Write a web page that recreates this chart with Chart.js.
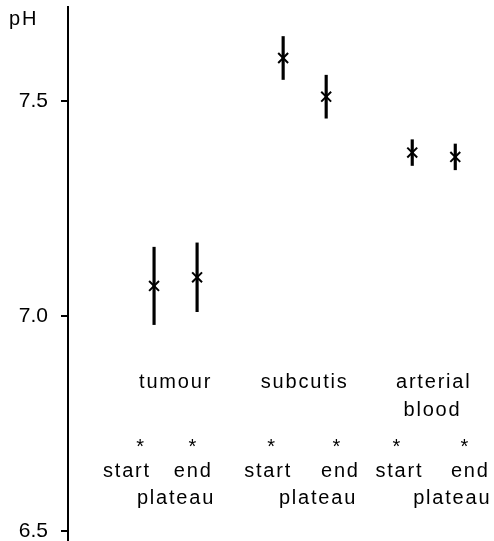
<!DOCTYPE html>
<html>
<head>
<meta charset="utf-8">
<script src="https://cdn.jsdelivr.net/npm/chart.js@4.4.1/dist/chart.umd.min.js"></script>
<style>
  html, body { margin: 0; padding: 0; background: #fff; }
  #wrap { width: 494px; height: 541px; position: relative; }
</style>
</head>
<body>
<div id="wrap"><canvas id="c" width="494" height="541"></canvas></div>
<script>
// Measurement sites and sampling moments
const sites = ['tumour', 'subcutis', 'arterial blood'];
const phases = ['start', 'end'];
const phaseNote = 'plateau';

// Horizontal slot of each measurement (start/end pairs per site)
const slots = [1, 2, 4, 5, 7, 8];

// Mean pH and its spread at each slot
const meanPH = [7.07, 7.09, 7.60, 7.51, 7.38, 7.37];
const spreadPH = [0.09, 0.08, 0.05, 0.05, 0.03, 0.03];

// Labelled pH ticks
const yTicks = [6.5, 7.0, 7.5];

const FONT = '"Liberation Sans", Arial, sans-serif';

const points = slots.map((x, i) => ({ x: x, y: meanPH[i] }));
const bars = slots.map((x, i) => ({ x: x, y: [meanPH[i] - spreadPH[i], meanPH[i] + spreadPH[i]] }));

// Text annotations placed in data units: site names, asterisks, start/end, plateau
const annotate = {
  id: 'annotate',
  afterDatasetsDraw(chart) {
    const { ctx, scales: { x, y } } = chart;
    ctx.save();
    ctx.fillStyle = '#000';
    ctx.font = '20px ' + FONT;
    ctx.letterSpacing = '1.8px';
    ctx.textAlign = 'center';
    ctx.textBaseline = 'middle';
    const put = (t, xv, yv) => ctx.fillText(t, x.getPixelForValue(xv), y.getPixelForValue(yv));

    // site names
    put(sites[0], 1.5, 6.845);
    put(sites[1], 4.5, 6.845);
    const [w1, w2] = sites[2].split(' ');
    put(w1, 7.5, 6.845);
    put(w2, 7.47, 6.781);

    // start / end under each site, with an asterisk above each
    const wordX = [0.37, 1.91, 3.65, 5.33, 6.70, 8.35];
    const starX = [0.70, 1.91, 3.74, 5.26, 6.65, 8.23];
    wordX.forEach((xv, i) => put(phases[i % 2], xv, 6.638));
    starX.forEach((xv) => put('*', xv, 6.695));
    [1.51, 4.81, 7.93].forEach((xv) => put(phaseNote, xv, 6.576));

    // axis title
    ctx.textAlign = 'left';
    ctx.fillText('pH', 9, 19);
    ctx.restore();
  }
};

new Chart(document.getElementById('c'), {
  data: {
    datasets: [
      {
        type: 'bar',
        data: bars,
        backgroundColor: '#000',
        borderWidth: 0,
        barThickness: 2.5,
        grouped: false
      },
      {
        type: 'scatter',
        data: points,
        pointStyle: 'crossRot',
        pointRadius: 7,
        pointBorderWidth: 2,
        borderColor: '#000',
        backgroundColor: '#000'
      }
    ]
  },
  options: {
    responsive: false,
    animation: false,
    layout: { autoPadding: false, padding: { top: 7, right: 0, bottom: 0, left: 0 } },
    plugins: { legend: { display: false }, tooltip: { enabled: false } },
    scales: {
      x: {
        type: 'linear',
        min: -1,
        max: 8.9,
        offset: false,
        display: false
      },
      y: {
        min: 6.4767,
        max: 7.7186,
        afterFit(scale) { scale.width = 68; scale.paddingTop = 0; scale.paddingBottom = 0; },
        afterBuildTicks(scale) { scale.ticks = yTicks.map(v => ({ value: v })); },
        border: { display: true, color: '#000', width: 2 },
        grid: { display: true, drawOnChartArea: false, drawTicks: true, tickLength: 7, color: '#000', lineWidth: 2 },
        ticks: {
          color: '#000',
          padding: 13,
          font: { family: FONT, size: 21 },
          callback: v => v.toFixed(1)
        }
      }
    }
  },
  plugins: [annotate]
});
</script>
</body>
</html>
